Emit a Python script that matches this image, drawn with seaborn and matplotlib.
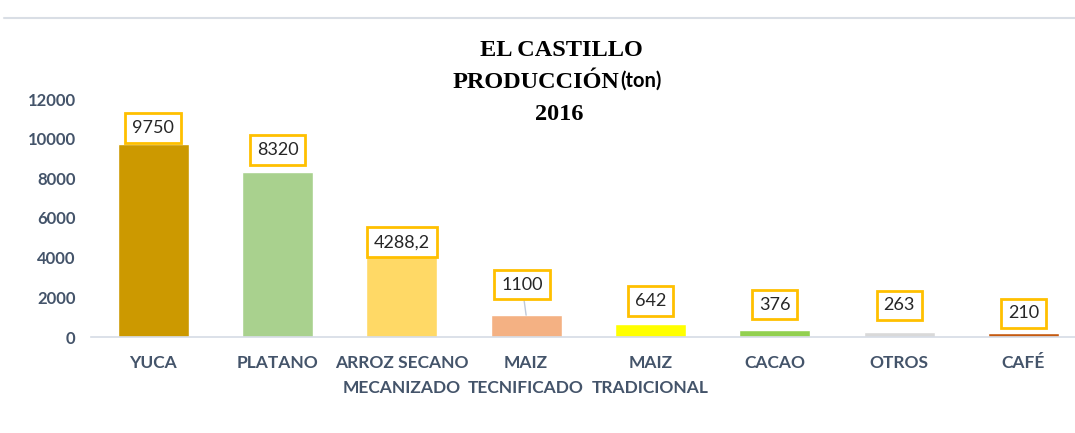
import seaborn as sns
import matplotlib
matplotlib.use("Agg")
import matplotlib.pyplot as plt
import pandas as pd

# ---------DATA
categories = ["YUCA", "PLATANO", "ARROZ SECANO\nMECANIZADO", "MAIZ\nTECNIFICADO",
              "MAIZ\nTRADICIONAL", "CACAO", "OTROS", "CAFÉ"]
production = [9750, 8320, 4288.2, 1100, 642, 376, 263, 210]
value_labels = ["9750", "8320", "4288,2", "1100", "642", "376", "263", "210"]
bar_colors = ["#CC9900", "#A9D18E", "#FFD966", "#F4B183",
              "#FFFF00", "#92D050", "#D9D9D9", "#C55A11"]
label_dy = [11.5, 16, 7, 22, 17, 18, 19, 14]   # label offset above bar (points)

df = pd.DataFrame({"cultivo": categories, "ton": production})

sns.set_theme(style="white")
plt.rcParams['font.family'] = ['Lato', 'DejaVu Sans']

fig = plt.figure(figsize=(10.75, 4.33), dpi=100)
ax = fig.add_axes([91 / 1075, 96 / 433, 984 / 1075, 238 / 433])

sns.barplot(data=df, x="cultivo", y="ton", hue="cultivo", palette=bar_colors,
            legend=False, width=0.57, ax=ax, saturation=1)

ax.set_ylim(0, 12000)
ax.set_xlim(-0.5, 7.415)
ax.set_yticks(range(0, 12001, 2000))
ax.set_xlabel("")
ax.set_ylabel("")
for s in ["top", "right", "left"]:
    ax.spines[s].set_visible(False)
ax.spines["bottom"].set_color("#D6DCE5")
ax.spines["bottom"].set_linewidth(1.2)
ax.tick_params(axis="y", length=0, pad=11, labelsize=12, labelcolor="#44546A")
ax.tick_params(axis="x", length=0, pad=13, labelsize=12.5, labelcolor="#44546A")
for t in ax.get_xticklabels() + ax.get_yticklabels():
    t.set_fontweight("bold")
    t.set_linespacing(1.65)

# ---------VALUE LABELS
for i, (v, lab) in enumerate(zip(production, value_labels)):
    arrow = None
    if i == 3:
        arrow = dict(arrowstyle="-", color="#BFC9D9", lw=1, shrinkA=0, shrinkB=0)
    ax.annotate(lab, xy=(i, v), xytext=(-3 if i == 3 else 0, label_dy[i]),
                textcoords="offset points", ha="center", va="center",
                fontsize=13, color="#262626", annotation_clip=False,
                bbox=dict(boxstyle="square,pad=0.38", fc="white", ec="#FFC000", lw=2),
                arrowprops=arrow)

# ---------TITLE
serif = ["Liberation Serif", "DejaVu Serif"]
fig.text(561 / 1075, 1 - 51 / 433, "EL CASTILLO", ha="center", va="center",
         fontsize=17.5, fontweight="bold", family=serif, color="#000000")
fig.text(619 / 1075, 1 - 82 / 433, "PRODUCCIÓN", ha="right", va="center",
         fontsize=17.5, fontweight="bold", family=serif, color="#000000")
fig.text(620 / 1075, 1 - 81 / 433, "(ton)", ha="left", va="center",
         fontsize=14.5, fontweight="bold", family=["Lato", "DejaVu Sans"], color="#000000")
fig.text(559 / 1075, 1 - 115 / 433, "2016", ha="center", va="center",
         fontsize=17.5, fontweight="bold", family=serif, color="#000000")

# top border line
fig.add_artist(plt.Line2D([4 / 1075, 1], [1 - 18 / 433, 1 - 18 / 433],
                          transform=fig.transFigure, color="#D9DEE5", lw=1.5))

fig.savefig("out.png", dpi=100)
